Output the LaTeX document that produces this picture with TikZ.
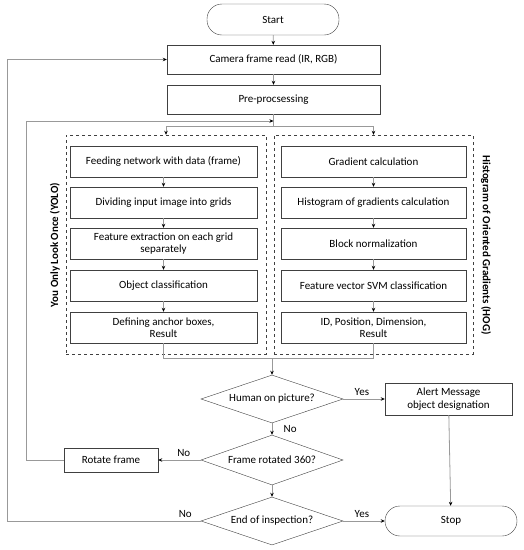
\documentclass[tikz,border=0pt]{standalone}
\usepackage{fontspec}
\setmainfont{Carlito}
\usetikzlibrary{shapes.geometric,arrows.meta}

\tikzset{
  box/.style={draw=black!75, fill=white, align=center, inner sep=1pt, font=\fontsize{11}{12.5}\selectfont},
  term/.style={box, rounded corners=15pt, minimum width=132pt, minimum height=31pt},
  wide/.style={box, minimum width=213pt, minimum height=29pt},
  inner/.style={box, minimum width=187pt, minimum height=31pt},
  dec/.style={box, diamond, aspect=3, inner sep=0pt, minimum width=142pt, minimum height=48pt},
  group/.style={draw=black!75, dashed, minimum width=200pt, minimum height=219pt},
  side/.style={font=\bfseries\fontsize{11}{12.5}\selectfont},
  lbl/.style={font=\fontsize{11}{12.5}\selectfont},
  line/.style={draw=black!40, thick},
  arr/.style={line, -{Stealth[length=4pt,width=3.5pt,black]}}
}

\begin{document}
\begin{tikzpicture}[x=1pt,y=-1pt]
    \useasboundingbox (0,0) rectangle (524,550);

    % top
    \node[term] (start) at (273,19.5) {Start};
    \node[wide] (cam) at (273.5,59.5) {Camera frame read (IR, RGB)};
    \node[wide] (pre) at (273.5,99.5) {Pre-procsessing};

    % the two detectors
    \node[group] (yolo) at (166,244.5) {};
    \node[group, minimum width=199pt] (hog) at (373.5,244.5) {};
    \node[side, rotate=90] (yololbl) at (55,245) {You Only Look Once (YOLO)};
    \node[side, rotate=-90] (hoglbl) at (486,245) {Histogram of Oriented Gradients (HOG)};

    \node[inner] (l1) at (163.5,161.5) {Feeding network with data (frame)};
    \node[inner] (l2) at (163.5,202.5) {Dividing input image into grids};
    \node[inner] (l3) at (163.5,243.5) {Feature extraction on each grid\\separately};
    \node[inner] (l4) at (163.5,285.5) {Object classification};
    \node[inner] (l5) at (163.5,327.5) {Defining anchor boxes,\\Result};

    \node[inner, minimum width=185pt] (r1) at (373.5,161.5) {Gradient calculation};
    \node[inner, minimum width=185pt] (r2) at (373.5,202.5) {Histogram of gradients calculation};
    \node[inner, minimum width=185pt] (r3) at (373.5,243.5) {Block normalization};
    \node[inner, minimum width=185pt] (r4) at (373.5,285.5) {Feature vector SVM classification};
    \node[inner, minimum width=185pt] (r5) at (373.5,327.5) {ID, Position, Dimension,\\Result};

    % decisions
    \node[dec] (human) at (272,399) {Human on picture?};
    \node[box, minimum width=127pt, minimum height=32pt] (alert) at (448.5,399) {Alert Message\\object designation};
    \node[dec, minimum height=50pt] (rotated) at (272,460) {Frame rotated 360?};
    \node[box, minimum width=94pt, minimum height=24pt] (rot) at (111,460) {Rotate frame};
    \node[dec] (end) at (272,521) {End of inspection?};
    \node[term, minimum height=30pt] (stop) at (451,521) {Stop};

    \coordinate (j1) at (273.5,121);
    \coordinate (j2) at (273.5,126);
    \coordinate (m1) at (163.5,358);
    \coordinate (m2) at (373.5,358);
    \coordinate (m) at (272,358);
    \coordinate (fb1) at (26,460);
    \coordinate (fb2) at (7,521);

    \draw[arr] (start) -- (cam);
    \draw[arr] (cam) -- (pre);
    \draw[line] (pre) -- (j1) -- (j2);
    \draw[arr] (j2) -| (yolo.north);
    \draw[arr] (j2) -| (hog.north);
    \foreach \a/\b in {l1/l2,l2/l3,l3/l4,l4/l5,r1/r2,r2/r3,r3/r4,r4/r5}
      \draw[arr] (\a) -- (\b);
    \draw[line] (l5) -- (m1) -- (m2) -- (r5);
    \draw[arr] (m) -- (human);

    \draw[arr] (human) -- node[lbl, above, pos=0.45] {Yes} (alert);
    \draw[arr] (human) -- node[lbl, right, xshift=8pt] {No} (rotated);
    \draw[arr] (rotated) -- node[lbl, above, pos=0.4] {No} (rot);
    \draw[arr] (rot) -- (fb1) |- (j1);
    \draw[arr] (rotated) -- (end);
    \draw[arr] (end) -- node[lbl, above, pos=0.45] {Yes} (stop);
    \draw[arr] (end) -- node[lbl, above, pos=0.08] {No} (fb2) |- (cam);
    \draw[arr] (alert) -- (stop);
\end{tikzpicture}
\end{document}
